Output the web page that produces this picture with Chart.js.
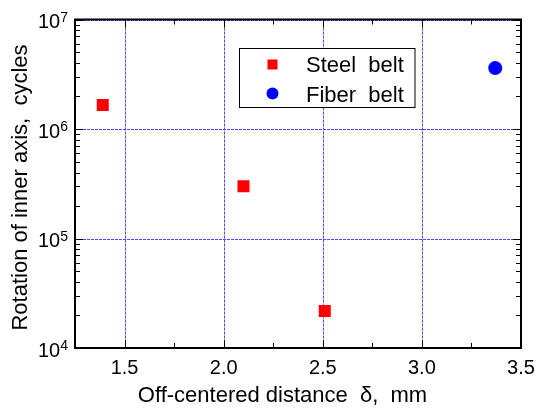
<!DOCTYPE html>
<html>
<head>
<meta charset="utf-8">
<script src="https://cdn.jsdelivr.net/npm/chart.js@4.4.1/dist/chart.umd.min.js"></script>
<style>
  html, body { margin: 0; padding: 0; background: #fff; }
  #c { display: block; }
</style>
</head>
<body>
<canvas id="c" width="536" height="408"></canvas>
<script>
// valores
const steelX = [1.39, 2.10, 2.51];
const steelY = [1.66e6, 3.0e5, 2.18e4];
const fiberX = [3.37];
const fiberY = [3.6e6];
const seriesLabels = ['Steel  belt', 'Fiber  belt'];
const seriesColors = ['#ff0000', '#0000ff'];

const xTicks = [1.5, 2.0, 2.5, 3.0, 3.5];
const xMin = 1.25, xMax = 3.5;
const yTicks = [1e4, 1e5, 1e6, 1e7];
const xTitle = 'Off-centered distance  \u03b4,  mm';
const yTitle = 'Rotation of inner axis,  cycles';

const FONT = '"Liberation Sans", Arial, Helvetica, sans-serif';
const GRID = '#4a4aff';

function toPoints(xs, ys) {
  return xs.map((x, i) => ({ x, y: ys[i] }));
}

// rejilla punteada azul en los valores principales
const gridPlugin = {
  id: 'dotgrid',
  beforeDatasetsDraw(chart) {
    const { ctx, chartArea: a, scales } = chart;
    ctx.save();
    ctx.strokeStyle = GRID;
    ctx.lineWidth = 1;
    ctx.setLineDash([3, 1]);
    ctx.beginPath();
    xTicks.forEach(v => {
      const p = Math.round(scales.x.getPixelForValue(v)) + 0.5;
      ctx.moveTo(p, a.top); ctx.lineTo(p, a.bottom);
    });
    yTicks.forEach(v => {
      const p = Math.round(scales.y.getPixelForValue(v)) + 0.5;
      ctx.moveTo(a.left, p); ctx.lineTo(a.right, p);
    });
    ctx.stroke();
    ctx.restore();
  }
};

// marco, marcas hacia adentro, etiquetas y titulos
const framePlugin = {
  id: 'frame',
  afterDatasetsDraw(chart) {
    const { ctx, chartArea: a, scales } = chart;
    const xs = scales.x, ys = scales.y;
    ctx.save();
    ctx.strokeStyle = '#000';

    // ticks
    ctx.lineWidth = 1;
    const tickX = (v, len) => {
      const p = Math.round(xs.getPixelForValue(v)) + 0.5;
      ctx.beginPath();
      ctx.moveTo(p, a.bottom); ctx.lineTo(p, a.bottom - len);
      ctx.moveTo(p, a.top); ctx.lineTo(p, a.top + len);
      ctx.stroke();
    };
    const tickY = (v, len) => {
      const p = Math.round(ys.getPixelForValue(v)) + 0.5;
      ctx.beginPath();
      ctx.moveTo(a.left, p); ctx.lineTo(a.left + len, p);
      ctx.moveTo(a.right, p); ctx.lineTo(a.right - len, p);
      ctx.stroke();
    };
    xTicks.forEach(v => tickX(v, 8));
    for (let i = 0; i < xTicks.length - 1; i++) tickX((xTicks[i] + xTicks[i + 1]) / 2, 5);
    tickX(xTicks[0] - (xTicks[1] - xTicks[0]) / 2, 5);
    yTicks.forEach(v => tickY(v, 8));
    for (let i = 0; i < yTicks.length - 1; i++) {
      for (let k = 2; k <= 9; k++) tickY(yTicks[i] * k, 5);
    }

    // marco
    ctx.lineWidth = 2;
    ctx.strokeRect(a.left, a.top, a.right - a.left, a.bottom - a.top);

    // etiquetas eje x
    ctx.fillStyle = '#000';
    ctx.font = '20px ' + FONT;
    ctx.textAlign = 'center';
    ctx.textBaseline = 'alphabetic';
    xTicks.forEach(v => {
      ctx.fillText(v.toFixed(1), xs.getPixelForValue(v), a.bottom + 26);
    });

    // etiquetas eje y: 10 con exponente
    yTicks.forEach(v => {
      const p = ys.getPixelForValue(v);
      const exp = String(Math.round(Math.log10(v)));
      ctx.font = '14px ' + FONT;
      ctx.textAlign = 'right';
      const ew = ctx.measureText(exp).width;
      ctx.fillText(exp, a.left - 7, p + 2);
      ctx.font = '20px ' + FONT;
      ctx.fillText('10', a.left - 7 - ew, p + 8.5);
    });

    // titulos
    ctx.font = '22px ' + FONT;
    ctx.textAlign = 'center';
    ctx.fillText(xTitle, 282.5, 402);
    ctx.save();
    ctx.translate(27, 187.5);
    ctx.rotate(-Math.PI / 2);
    ctx.fillText(yTitle, 0, 0);
    ctx.restore();

    // leyenda
    ctx.fillStyle = '#fff';
    ctx.fillRect(239.5, 48.5, 175.5, 59);
    ctx.lineWidth = 1;
    ctx.strokeStyle = '#000';
    ctx.strokeRect(239.5, 48.5, 175.5, 59);
    ctx.fillStyle = seriesColors[0];
    ctx.fillRect(267.5, 59.5, 10, 10);
    ctx.fillStyle = seriesColors[1];
    ctx.beginPath();
    ctx.arc(272.5, 93.5, 6, 0, Math.PI * 2);
    ctx.fill();
    ctx.fillStyle = '#000';
    ctx.font = '22px ' + FONT;
    ctx.textAlign = 'left';
    ctx.fillText(seriesLabels[0], 306, 72);
    ctx.fillText(seriesLabels[1], 306, 101.5);

    ctx.restore();
  }
};

new Chart(document.getElementById('c'), {
  type: 'scatter',
  data: {
    datasets: [
      {
        label: seriesLabels[0],
        data: toPoints(steelX, steelY),
        pointStyle: 'rect',
        pointRadius: 8.5,
        pointHoverRadius: 8.5,
        backgroundColor: seriesColors[0],
        borderWidth: 0,
      },
      {
        label: seriesLabels[1],
        data: toPoints(fiberX, fiberY),
        pointStyle: 'circle',
        pointRadius: 7,
        pointHoverRadius: 7,
        backgroundColor: seriesColors[1],
        borderWidth: 0,
      },
    ]
  },
  options: {
    responsive: false,
    animation: false,
    events: [],
    layout: { padding: { left: 0, right: 15, top: 19.5, bottom: 0 } },
    plugins: {
      legend: { display: false },
      tooltip: { enabled: false },
    },
    scales: {
      x: {
        type: 'linear',
        min: xMin,
        max: xMax,
        afterBuildTicks: s => { s.ticks = xTicks.map(v => ({ value: v })); },
        afterFit: s => { s.height = 60; },
        ticks: { display: false },
        grid: { display: false },
        border: { display: false },
      },
      y: {
        type: 'logarithmic',
        min: yTicks[0],
        max: yTicks[yTicks.length - 1],
        afterBuildTicks: s => { s.ticks = yTicks.map(v => ({ value: v })); },
        afterFit: s => { s.width = 75; },
        ticks: { display: false },
        grid: { display: false },
        border: { display: false },
      },
    },
  },
  plugins: [gridPlugin, framePlugin],
});
</script>
</body>
</html>
